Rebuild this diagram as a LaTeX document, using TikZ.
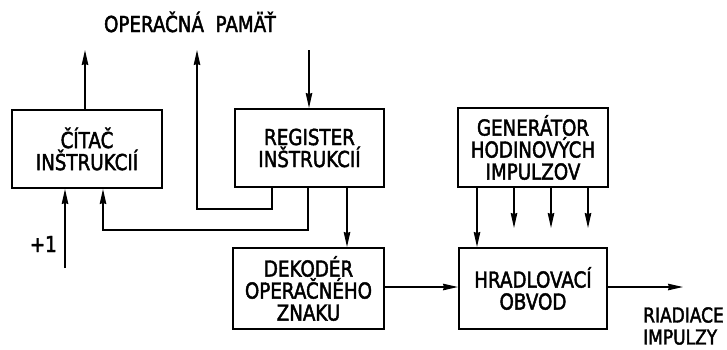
\documentclass[tikz,border=0pt]{standalone}
\usepackage{fontspec}
\setmainfont{DejaVu Sans}[FakeStretch=0.83,FakeBold=2]
\usetikzlibrary{arrows.meta}
\begin{document}
\begin{tikzpicture}[x=1pt,y=-1pt,
  blok/.style={draw,line width=2pt,inner sep=0pt,align=center,font=\fontsize{22}{22}\selectfont},
  spoj/.style={line width=1.5pt},
  arr/.style={spoj,-{Stealth[length=15pt,width=6.5pt,inset=1pt]}},
  txt/.style={inner sep=0pt,font=\fontsize{22}{22}\selectfont}]
\useasboundingbox (0,0) rectangle (727,349);
\node[blok,minimum width=150,minimum height=78] (citac) at (87,149) {ČÍTAČ\\INŠTRUKCIÍ};
\node[blok,minimum width=149,minimum height=78] (reg) at (309.5,148) {REGISTER\\INŠTRUKCIÍ};
\node[blok,minimum width=150,minimum height=79] (gen) at (533,147.5) {GENERÁTOR\\HODINOVÝCH\\IMPULZOV};
\node[blok,minimum width=151,minimum height=81] (dek) at (308.5,288.5) {DEKODÉR\\OPERAČNÉHO\\ZNAKU};
\node[blok,minimum width=148,minimum height=81] (hrad) at (533,288.5) {HRADLOVACÍ\\OBVOD};
\node[txt,anchor=base] (pamat) at (190,32) {OPERAČNÁ~~PAMÄŤ};
\node[txt,anchor=east] (plus) at (57,244) {+1};
\node[txt,anchor=west,align=left,font=\fontsize{20.5}{22}\selectfont] (riad) at (643,326) {RIADIACE\\IMPULZY};
\coordinate (o1) at (85,50);
\coordinate (o2) at (197,50);
\coordinate (i1) at (309,50);
\coordinate (p1) at (65,268);
\coordinate (out) at (683,287);
\coordinate (g2) at (514,228);
\coordinate (g3) at (551,228);
\coordinate (g4) at (588,228);
\draw[arr] (citac.north -| o1) -- (o1);
\draw[arr] (reg.south -| 272,0) -- (272,209) -| (o2);
\draw[arr] (i1) -- (i1 |- reg.north);
\draw[arr] (reg.south -| 308,0) -- (308,230) -| (103,0 |- citac.south);
\draw[arr] (p1) -- (p1 |- citac.south);
\draw[arr] (reg.south -| 347,0) -- (347,0 |- dek.north);
\draw[arr] (gen.south -| 477,0) -- (477,0 |- hrad.north);
\draw[arr] (gen.south -| g2) -- (g2);
\draw[arr] (gen.south -| g3) -- (g3);
\draw[arr] (gen.south -| g4) -- (g4);
\draw[arr] (dek.east |- out) -- (hrad.west |- out);
\draw[arr] (hrad.east |- out) -- (out);
\end{tikzpicture}
\end{document}
